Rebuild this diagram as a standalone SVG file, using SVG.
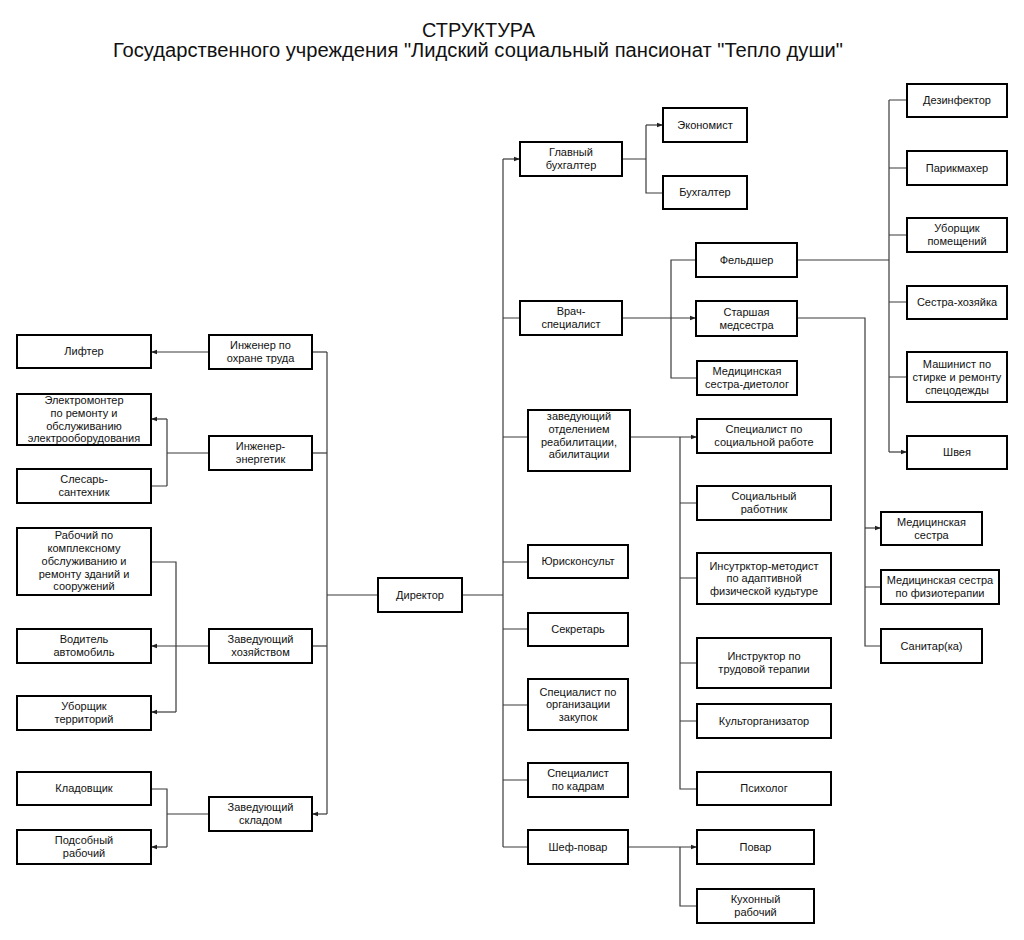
<svg xmlns="http://www.w3.org/2000/svg" width="1024" height="940" viewBox="0 0 1024 940">
<defs>
<marker id="ah" viewBox="0 0 6 6" refX="6" refY="3" markerWidth="6" markerHeight="6" markerUnits="userSpaceOnUse" orient="auto">
<path d="M0,0.8 L6,3 L0,5.2 z" fill="#222"/>
</marker>
<style>
rect{fill:#fff;stroke:#000;stroke-width:2}
text{font-family:"Liberation Sans",Arial,sans-serif;font-size:11px;fill:#111;text-anchor:middle}
.t{font-size:20px}
#connectors path{fill:none;stroke:#3a3a3a;stroke-width:1.2}
.a{marker-end:url(#ah)}
</style>
</defs>
<rect width="1024" height="940" style="fill:#fff;stroke:none"/>
<g id="title">
<text class="t" x="478.5" y="37" textLength="113" lengthAdjust="spacingAndGlyphs">СТРУКТУРА</text>
<text class="t" x="478" y="57" textLength="730" lengthAdjust="spacingAndGlyphs">Государственного учреждения "Лидский социальный пансионат "Тепло души"</text>
</g>
<g id="connectors">
<path d="M327,595 H378"/>
<path d="M327,352 V814"/>
<path d="M312,352 H327"/>
<path d="M312,453 H327"/>
<path d="M312,646 H327"/>
<path class="a" d="M327,814 H312"/>
<path class="a" d="M209,352 H151"/>
<path d="M209,453 H167 M167,419 V486 M167,486 H151"/>
<path class="a" d="M167,419 H151"/>
<path class="a" d="M209,646 H151"/>
<path d="M151,562 H176 V712"/>
<path class="a" d="M176,712 H151"/>
<path d="M209,814 H167 M151,789 H167 V847"/>
<path class="a" d="M167,847 H151"/>
<path d="M462,595 H503"/>
<path d="M503,159 V847"/>
<path class="a" d="M503,159 H520"/>
<path d="M503,318 H520 M503,437 H528 M503,562 H528 M503,629 H528 M503,705 H528 M503,780 H528 M503,847 H528"/>
<path d="M622,159 H646 M646,125 V193 H663"/>
<path class="a" d="M646,125 H663"/>
<path class="a" d="M622,318 H696"/>
<path d="M696,260 H671 V378 H697"/>
<path class="a" d="M630,437 H697"/>
<path d="M680,437 V789 H697 M680,503 H697 M680,578 H697 M680,663 H697 M680,721 H697"/>
<path class="a" d="M628,847 H697"/>
<path d="M680,847 V906 H697"/>
<path d="M797,260 H889 M889,100 V452 M889,100 H907 M889,168 H907 M889,235 H907 M889,302 H907 M889,377 H907"/>
<path class="a" d="M889,452 H907"/>
<path d="M797,318 H865 V646 H881 M865,587 H881"/>
<path class="a" d="M865,528 H881"/>
</g>
<g id="lifter"><rect x="17" y="335" width="134" height="33"/><text x="84" y="355.3">Лифтер</text></g>
<g id="electromonter"><rect x="17" y="394" width="134" height="51"/><text x="84"><tspan x="84" y="404.2">Электромонтер</tspan><tspan x="84" y="416.9">по ремонту и</tspan><tspan x="84" y="429.6">обслуживанию</tspan><tspan x="84" y="442.3">электрооборудования</tspan></text></g>
<g id="slesar"><rect x="17" y="469" width="134" height="34"/><text x="84"><tspan x="84" y="483.45">Слесарь-</tspan><tspan x="84" y="496.15">сантехник</tspan></text></g>
<g id="rabochiy"><rect x="17" y="528" width="134" height="67"/><text x="84"><tspan x="84" y="539.4">Рабочий по</tspan><tspan x="84" y="552.1">комплексному</tspan><tspan x="84" y="564.8">обслуживанию и</tspan><tspan x="84" y="577.5">ремонту зданий и</tspan><tspan x="84" y="590.2">сооружений</tspan></text></g>
<g id="voditel"><rect x="17" y="629" width="134" height="34"/><text x="84"><tspan x="84" y="643.45">Водитель</tspan><tspan x="84" y="656.15">автомобиль</tspan></text></g>
<g id="uborshik-terr"><rect x="17" y="696" width="134" height="34"/><text x="84"><tspan x="84" y="710.45">Уборщик</tspan><tspan x="84" y="723.15">территорий</tspan></text></g>
<g id="kladovshik"><rect x="17" y="772" width="134" height="33"/><text x="84" y="792.3">Кладовщик</text></g>
<g id="podsobny"><rect x="17" y="830" width="134" height="34"/><text x="84"><tspan x="84" y="844.45">Подсобный</tspan><tspan x="84" y="857.15">рабочий</tspan></text></g>
<g id="inzh-okhrana"><rect x="209" y="335" width="103" height="34"/><text x="260.5"><tspan x="260.5" y="349.45">Инженер по</tspan><tspan x="260.5" y="362.15">охране труда</tspan></text></g>
<g id="inzh-energetik"><rect x="209" y="436" width="103" height="34"/><text x="260.5"><tspan x="260.5" y="450.45">Инженер-</tspan><tspan x="260.5" y="463.15">энергетик</tspan></text></g>
<g id="zav-hoz"><rect x="209" y="629" width="103" height="34"/><text x="260.5"><tspan x="260.5" y="643.45">Заведующий</tspan><tspan x="260.5" y="656.15">хозяйством</tspan></text></g>
<g id="zav-sklad"><rect x="209" y="797" width="103" height="34"/><text x="260.5"><tspan x="260.5" y="811.45">Заведующий</tspan><tspan x="260.5" y="824.15">складом</tspan></text></g>
<g id="director"><rect x="378" y="578" width="84" height="34"/><text x="420" y="598.8">Директор</text></g>
<g id="glavbuh"><rect x="520" y="142" width="102" height="34"/><text x="571"><tspan x="571" y="156.45">Главный</tspan><tspan x="571" y="169.15">бухгалтер</tspan></text></g>
<g id="vrach"><rect x="520" y="301" width="102" height="34"/><text x="571"><tspan x="571" y="315.45">Врач-</tspan><tspan x="571" y="328.15">специалист</tspan></text></g>
<g id="zav-otd"><rect x="528" y="410" width="102" height="61"/><text x="579"><tspan x="579" y="420.25">заведующий</tspan><tspan x="579" y="432.95">отделением</tspan><tspan x="579" y="445.65">реабилитации,</tspan><tspan x="579" y="458.35">абилитации</tspan></text></g>
<g id="yuris"><rect x="528" y="545" width="100" height="33"/><text x="578" y="565.3">Юрисконсульт</text></g>
<g id="sekretar"><rect x="528" y="613" width="100" height="33"/><text x="578" y="633.3">Секретарь</text></g>
<g id="zakupki"><rect x="528" y="679" width="100" height="51"/><text x="578"><tspan x="578" y="695.6">Специалист по</tspan><tspan x="578" y="708.3">организации</tspan><tspan x="578" y="721">закупок</tspan></text></g>
<g id="kadry"><rect x="528" y="763" width="100" height="34"/><text x="578"><tspan x="578" y="777.45">Специалист</tspan><tspan x="578" y="790.15">по кадрам</tspan></text></g>
<g id="shef"><rect x="528" y="830" width="100" height="34"/><text x="578" y="850.8">Шеф-повар</text></g>
<g id="economist"><rect x="663" y="108" width="84" height="34"/><text x="705" y="128.8">Экономист</text></g>
<g id="buhgalter"><rect x="663" y="176" width="84" height="33"/><text x="705" y="196.3">Бухгалтер</text></g>
<g id="feldsher"><rect x="696" y="243" width="101" height="34"/><text x="746.5" y="263.8">Фельдшер</text></g>
<g id="starshaya"><rect x="696" y="301" width="101" height="35"/><text x="746.5"><tspan x="746.5" y="315.95">Старшая</tspan><tspan x="746.5" y="328.65">медсестра</tspan></text></g>
<g id="dietolog"><rect x="697" y="361" width="100" height="34"/><text x="747"><tspan x="747" y="375.45">Медицинская</tspan><tspan x="747" y="388.15">сестра-диетолог</tspan></text></g>
<g id="spec-soc"><rect x="697" y="419" width="134" height="34"/><text x="764"><tspan x="764" y="433.45">Специалист по</tspan><tspan x="764" y="446.15">социальной работе</tspan></text></g>
<g id="soc-rab"><rect x="697" y="486" width="134" height="34"/><text x="764"><tspan x="764" y="500.45">Социальный</tspan><tspan x="764" y="513.15">работник</tspan></text></g>
<g id="instr-metodist"><rect x="697" y="553" width="134" height="51"/><text x="764"><tspan x="764" y="569.6">Инсутрктор-методист</tspan><tspan x="764" y="582.3">по адаптивной</tspan><tspan x="764" y="595">физической кудьтуре</tspan></text></g>
<g id="instr-trud"><rect x="697" y="638" width="134" height="50"/><text x="764"><tspan x="764" y="660.45">Инструктор по</tspan><tspan x="764" y="673.15">трудовой терапии</tspan></text></g>
<g id="kultorg"><rect x="697" y="704" width="134" height="34"/><text x="764" y="724.8">Культорганизатор</text></g>
<g id="psiholog"><rect x="697" y="772" width="134" height="33"/><text x="764" y="792.3">Психолог</text></g>
<g id="povar"><rect x="697" y="830" width="117" height="34"/><text x="755.5" y="850.8">Повар</text></g>
<g id="kuhon"><rect x="697" y="889" width="117" height="34"/><text x="755.5"><tspan x="755.5" y="903.45">Кухонный</tspan><tspan x="755.5" y="916.15">рабочий</tspan></text></g>
<g id="dezinf"><rect x="907" y="84" width="100" height="33"/><text x="957" y="104.3">Дезинфектор</text></g>
<g id="parik"><rect x="907" y="151" width="100" height="34"/><text x="957" y="171.8">Парикмахер</text></g>
<g id="uborshik-pom"><rect x="907" y="218" width="100" height="34"/><text x="957"><tspan x="957" y="232.45">Уборщик</tspan><tspan x="957" y="245.15">помещений</tspan></text></g>
<g id="sestra-hoz"><rect x="907" y="286" width="100" height="33"/><text x="957" y="306.3">Сестра-хозяйка</text></g>
<g id="mashinist"><rect x="907" y="352" width="100" height="50"/><text x="957"><tspan x="957" y="368.1">Машинист по</tspan><tspan x="957" y="380.8">стирке и ремонту</tspan><tspan x="957" y="393.5">спецодежды</tspan></text></g>
<g id="shveya"><rect x="907" y="436" width="100" height="33"/><text x="957" y="456.3">Швея</text></g>
<g id="medsestra"><rect x="881" y="512" width="101" height="33"/><text x="931.5"><tspan x="931.5" y="525.95">Медицинская</tspan><tspan x="931.5" y="538.65">сестра</tspan></text></g>
<g id="fizio"><rect x="881" y="570" width="118" height="34"/><text x="940"><tspan x="940" y="584.45">Медицинская сестра</tspan><tspan x="940" y="597.15">по физиотерапии</tspan></text></g>
<g id="sanitar"><rect x="881" y="629" width="101" height="34"/><text x="931.5" y="649.8">Санитар(ка)</text></g>
</svg>
